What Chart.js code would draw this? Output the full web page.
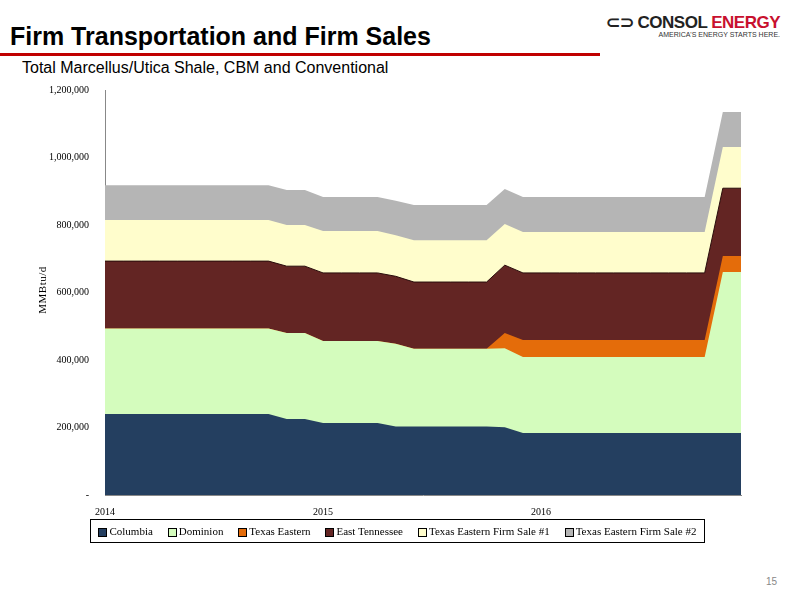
<!DOCTYPE html>
<html><head><meta charset="utf-8">
<script src="https://cdn.jsdelivr.net/npm/chart.js@4"></script>
<style>
body{margin:0;width:800px;height:600px;background:#fff;position:relative;font-family:"Liberation Sans",Arial,sans-serif;overflow:hidden}
#t{position:absolute;left:10px;top:22px;font-size:25px;font-weight:bold;color:#000}
#line{position:absolute;left:0;top:53px;width:600px;height:3px;background:#c00000}
#st{position:absolute;left:22px;top:59px;font-size:16px;color:#000}
#logo{position:absolute;left:560px;top:12px;text-align:right;width:220px;white-space:nowrap}
#logo .a{font-size:17px;font-weight:bold;color:#222;letter-spacing:-0.5px}
#logo .a span{color:#c8102e}
#logo .b{font-size:7px;color:#333;margin-top:-2px}
#wrap{position:absolute;left:20px;top:76px;width:740px;height:445px}
#yt{position:absolute;left:12px;top:284px;width:60px;text-align:center;transform:rotate(-90deg);font-family:"Liberation Serif",serif;font-size:11px;letter-spacing:0.5px}
#leg{position:absolute;left:90px;top:519px;width:613px;height:22px;border:1px solid #000;font-family:"Liberation Serif",serif;font-size:11px;display:flex;align-items:center;justify-content:space-around}
#leg i{display:inline-block;width:7px;height:7px;border:1px solid #000;margin-right:2px;vertical-align:middle}
#pg{position:absolute;left:766px;top:576px;font-size:10px;color:#888}
</style></head><body>
<div id="t">Firm Transportation and Firm Sales</div>
<div id="line"></div>
<div id="st">Total Marcellus/Utica Shale, CBM and Conventional</div>
<div id="logo"><div class="a">⊂⊃ CONSOL <span>ENERGY</span></div><div class="b">AMERICA'S ENERGY STARTS HERE.</div></div>
<div id="wrap"><canvas id="c"></canvas></div>
<div id="yt">MMBtu/d</div>
<div id="leg"></div>
<div id="pg">15</div>
<script>
const months = [];
for (const y of [2014, 2015, 2016]) for (let m = 1; m <= 12; m++) months.push(y + '-' + m);
const columbia = [240000,240000,240000,240000,240000,240000,240000,240000,240000,240000,225000,225000,213000,213000,213000,213000,203000,203000,203000,203000,203000,203000,201000,184000,184000,184000,184000,184000,184000,184000,184000,184000,184000,184000,184000,184000];
const dominion = [253000,253000,253000,253000,253000,253000,253000,253000,253000,253000,255000,255000,243000,243000,243000,243000,245000,230000,230000,230000,230000,230000,234000,225000,225000,225000,225000,225000,225000,225000,225000,225000,225000,225000,477000,477000];
const texasEastern = [0,0,0,0,0,0,0,0,0,0,0,0,0,0,0,0,0,0,0,0,0,0,45000,50000,50000,50000,50000,50000,50000,50000,50000,50000,50000,50000,47000,47000];
const eastTennessee = [200000,200000,200000,200000,200000,200000,200000,200000,200000,200000,198000,198000,202000,202000,202000,202000,200000,198000,198000,198000,198000,198000,201000,199000,199000,199000,199000,199000,199000,199000,199000,199000,199000,199000,201000,201000];
const tefs1 = [122000,122000,122000,122000,122000,122000,122000,122000,122000,122000,122000,122000,124000,124000,124000,124000,122000,124000,124000,124000,124000,124000,122000,121000,121000,121000,121000,121000,121000,121000,121000,121000,121000,121000,122000,122000];
const tefs2 = [103000,103000,103000,103000,103000,103000,103000,103000,103000,103000,104000,104000,101000,101000,101000,101000,102000,104000,104000,104000,104000,104000,104000,104000,104000,104000,104000,104000,104000,104000,104000,104000,104000,104000,104000,104000];
const names = ['Columbia','Dominion','Texas Eastern','East Tennessee','Texas Eastern Firm Sale #1','Texas Eastern Firm Sale #2'];
const colors = ['#243F60','#D4FCBD','#E46C0A','#632523','#FFFDCC','#B5B5B5'];
const series = [columbia, dominion, texasEastern, eastTennessee, tefs1, tefs2];
const serif = '"Liberation Serif","Times New Roman",serif';
new Chart(document.getElementById('c'), {
  type: 'line',
  data: { labels: months, datasets: series.map((d, k) => ({
    label: names[k], data: d, backgroundColor: colors[k], borderColor: k===3?'#2a0d0c':colors[k],
    borderWidth: k===3?1:0, fill: true, pointRadius: 0, tension: 0 })) },
  options: {
    animation: false, responsive: true, maintainAspectRatio: false,
    layout: { padding: { top: 0, right: 19 } },
    plugins: { legend: { display: false }, tooltip: { enabled: false } },
    scales: {
      x: { offset: false, grid: { display: false }, border: { color: '#888' },
        ticks: { autoSkip: false, maxRotation: 0, font: { family: serif, size: 10 }, color: '#000',
          callback: (v, i) => i % 12 === 0 ? months[i].slice(0, 4) : '' } },
      y: { stacked: true, min: 0, max: 1200000, grid: { display: false }, border: { color: '#888' },
        afterFit: s => { s.width = 85; },
        ticks: { stepSize: 200000, padding: 8, font: { family: serif, size: 10 }, color: '#000',
          callback: v => v === 0 ? '-' : v.toLocaleString('en-US') } }
    }
  }
});
document.getElementById('leg').innerHTML = names.map((n, k) =>
  `<span><i style="background:${colors[k]}"></i>${n}</span>`).join('');
</script>
</body></html>
